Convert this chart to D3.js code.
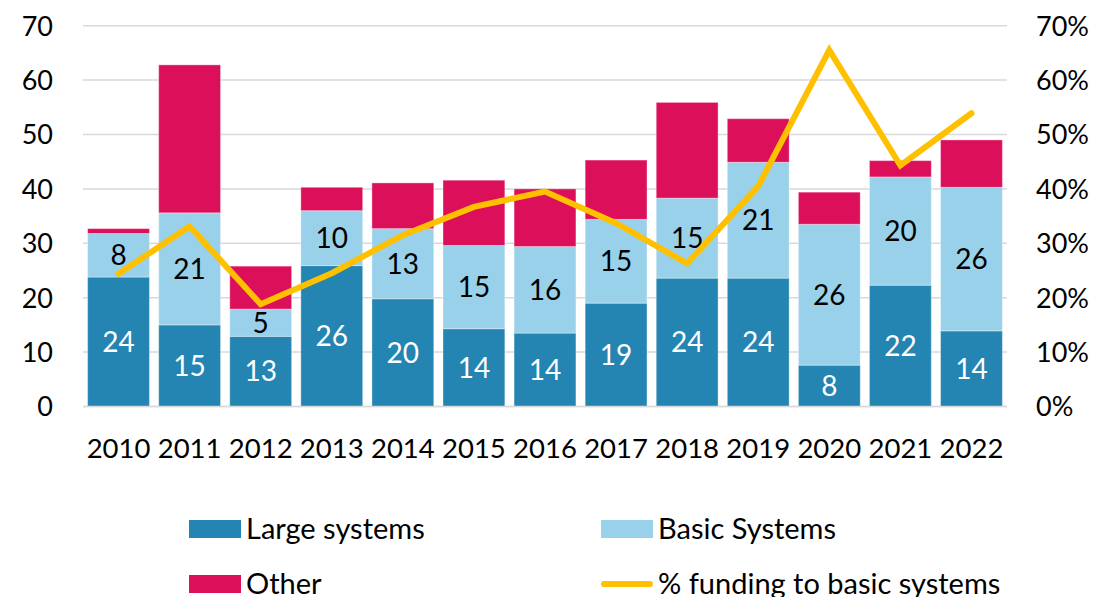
<!DOCTYPE html>
<html>
<head>
<meta charset="utf-8">
<script src="https://cdn.jsdelivr.net/npm/d3@7"></script>
<style>
  body { margin: 0; background: #fff; }
  svg text { font-family: Lato, "Open Sans", sans-serif; fill: #000; }
</style>
</head>
<body>
<svg id="chart"></svg>
<script>
var width = 1096,
    height = 597;

// Data
var years = ['2010', '2011', '2012', '2013', '2014', '2015', '2016', '2017', '2018', '2019', '2020', '2021', '2022'];
var largeSystems = [23.8, 15.0, 12.9, 25.9, 19.8, 14.3, 13.5, 19.0, 23.6, 23.6, 7.6, 22.3, 13.9];
var basicSystems = [8.0, 20.6, 5.0, 10.1, 12.9, 15.3, 15.9, 15.4, 14.7, 21.3, 25.9, 19.9, 26.4];
var other = [0.9, 27.2, 7.9, 4.3, 8.4, 12.0, 10.6, 10.9, 17.6, 8.0, 5.9, 3.0, 8.7];
var pctBasic = [24.4, 33.1, 18.8, 24.5, 31.5, 36.7, 39.5, 33.7, 26.3, 40.5, 65.5, 44.3, 53.9];
var leftTicks = [0, 10, 20, 30, 40, 50, 60, 70];
var rightTicks = [0, 10, 20, 30, 40, 50, 60, 70];

var colors = {
    large: '#2485b2',
    basic: '#9ad1ea',
    other: '#dc0f5a',
    line: '#ffc000',
    grid: '#d9d9d9'
};

var plot = { left: 83, right: 1007, top: 25.7, bottom: 406.5 };

var svg = d3.select('#chart')
    .attr('width', width)
    .attr('height', height);

var x = d3.scaleBand()
    .domain(years)
    .range([plot.left, plot.right])
    .paddingInner(0.13)
    .paddingOuter(0.065);

var y = d3.scaleLinear()
    .domain([0, 70])
    .range([plot.bottom, plot.top]);

var yRight = d3.scaleLinear()
    .domain([0, 70])
    .range([plot.bottom, plot.top]);

// Gridlines
svg.append('g')
    .selectAll('line')
    .data(leftTicks)
    .enter().append('line')
    .attr('x1', plot.left)
    .attr('x2', plot.right)
    .attr('y1', function (d) { return y(d); })
    .attr('y2', function (d) { return y(d); })
    .attr('stroke', colors.grid)
    .attr('stroke-width', 1.5);

// Left axis
var leftAxis = svg.append('g')
    .attr('transform', 'translate(' + 53 + ',0)')
    .call(d3.axisLeft(y).tickValues(leftTicks).tickSize(0).tickPadding(0));
leftAxis.select('.domain').remove();
leftAxis.selectAll('text')
    .style('font-size', '27px')
    .attr('dy', '0.35em');

// Right axis
var rightAxis = svg.append('g')
    .attr('transform', 'translate(' + 1036 + ',0)')
    .call(d3.axisRight(yRight).tickValues(rightTicks).tickSize(0).tickPadding(0)
        .tickFormat(function (d) { return d + '%'; }));
rightAxis.select('.domain').remove();
rightAxis.selectAll('text')
    .style('font-size', '27px')
    .attr('dy', '0.35em');

// Bottom axis labels
var bottomAxis = svg.append('g')
    .attr('transform', 'translate(0,' + 458 + ')')
    .call(d3.axisBottom(x).tickSize(0).tickPadding(0));
bottomAxis.select('.domain').remove();
bottomAxis.selectAll('text')
    .style('font-size', '27.5px')
    .attr('dy', '0');

// Stacked bars
var rows = years.map(function (yr, i) {
    return { year: yr, large: largeSystems[i], basic: basicSystems[i], other: other[i] };
});
var stack = d3.stack().keys(['large', 'basic', 'other']);
var series = stack(rows);

var layers = svg.append('g')
    .selectAll('g')
    .data(series)
    .enter().append('g')
    .attr('fill', function (d) { return colors[d.key]; });

layers.selectAll('rect')
    .data(function (d) { return d; })
    .enter().append('rect')
    .attr('x', function (d) { return x(d.data.year); })
    .attr('width', x.bandwidth())
    .attr('y', function (d) { return y(d[1]); })
    .attr('height', function (d) { return y(d[0]) - y(d[1]); })
    .attr('stroke', 'rgba(255,255,255,0.35)')
    .attr('stroke-width', 1);

// Baseline
svg.append('line')
    .attr('x1', plot.left)
    .attr('x2', plot.right)
    .attr('y1', y(0))
    .attr('y2', y(0))
    .attr('stroke', colors.grid)
    .attr('stroke-width', 1.5);

// Data labels for large and basic segments
layers.filter(function (d) { return d.key !== 'other'; })
    .selectAll('text')
    .data(function (d) { return d.map(function (p) { p.key = d.key; return p; }); })
    .enter().append('text')
    .attr('x', function (d) { return x(d.data.year) + x.bandwidth() / 2; })
    .attr('y', function (d) { return (y(d[0]) + y(d[1])) / 2; })
    .attr('dy', '0.36em')
    .attr('text-anchor', 'middle')
    .style('font-size', '28px')
    .style('fill', function (d) { return d.key === 'large' ? '#fff' : '#000'; })
    .text(function (d) { return Math.round(d[1] - d[0]); });

// Percentage line
var line = d3.line()
    .x(function (d, i) { return x(years[i]) + x.bandwidth() / 2; })
    .y(function (d) { return yRight(d); });

svg.append('path')
    .datum(pctBasic)
    .attr('d', line)
    .attr('fill', 'none')
    .attr('stroke', colors.line)
    .attr('stroke-width', 6)
    .attr('stroke-linejoin', 'miter')
    .attr('stroke-linecap', 'round');

// Legend
var legendItems = [
    { label: 'Large systems', type: 'rect', color: colors.large, x: 189, y: 529 },
    { label: 'Basic Systems', type: 'rect', color: colors.basic, x: 601, y: 529 },
    { label: 'Other', type: 'rect', color: colors.other, x: 189, y: 584 },
    { label: '% funding to basic systems', type: 'line', color: colors.line, x: 601, y: 584 }
];

var legend = svg.append('g')
    .selectAll('g')
    .data(legendItems)
    .enter().append('g')
    .attr('transform', function (d) { return 'translate(' + d.x + ',' + d.y + ')'; });

legend.filter(function (d) { return d.type === 'rect'; })
    .append('rect')
    .attr('x', 0)
    .attr('y', -9)
    .attr('width', 52)
    .attr('height', 18)
    .attr('fill', function (d) { return d.color; });

legend.filter(function (d) { return d.type === 'line'; })
    .append('line')
    .attr('x1', 3)
    .attr('x2', 49)
    .attr('y1', 0)
    .attr('y2', 0)
    .attr('stroke', function (d) { return d.color; })
    .attr('stroke-width', 6)
    .attr('stroke-linecap', 'round');

legend.append('text')
    .attr('x', 57)
    .attr('y', 9.5)
    .style('font-size', '29px')
    .text(function (d) { return d.label; });
</script>
</body>
</html>
